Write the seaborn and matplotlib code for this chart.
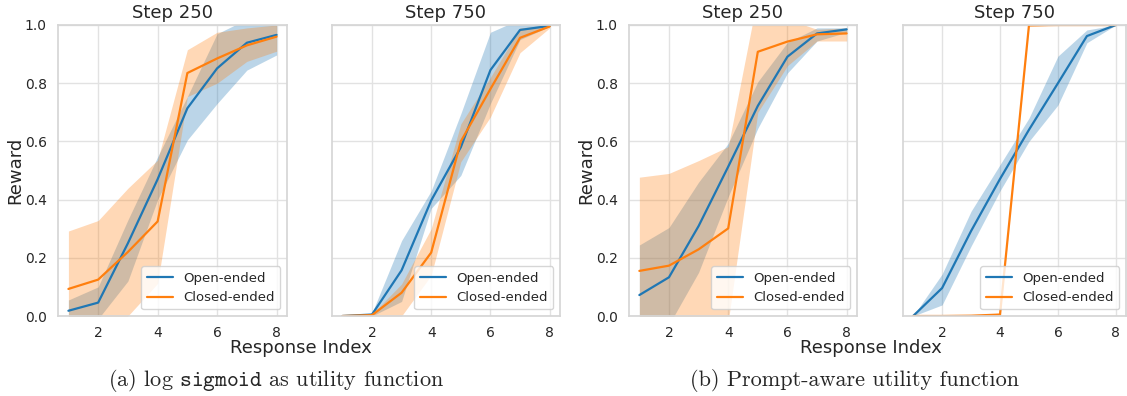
import numpy as np
import pandas as pd
import matplotlib
matplotlib.use("Agg")
import matplotlib.pyplot as plt
import seaborn as sns

# ---------------- data ----------------
idx = [1, 2, 3, 4, 5, 6, 7, 8]
series_names = ["Open-ended", "Closed-ended"]
panel_titles = ["Step 250", "Step 750", "Step 250", "Step 750"]
captions = ["(a) log $\\mathtt{sigmoid}$ as utility function",
            "(b) Prompt-aware utility function"]

# (a) log sigmoid, step 250
a250_open = [0.018, 0.046, 0.25, 0.47, 0.714, 0.851, 0.939, 0.966]
a250_open_lo = [-0.02, -0.01, 0.12, 0.40, 0.605, 0.73, 0.845, 0.897]
a250_open_hi = [0.055, 0.10, 0.33, 0.547, 0.754, 0.97, 1.02, 1.03]
a250_closed = [0.093, 0.125, 0.22, 0.325, 0.835, 0.885, 0.93, 0.96]
a250_closed_lo = [-0.10, -0.08, 0.0, 0.112, 0.754, 0.80, 0.875, 0.91]
a250_closed_hi = [0.292, 0.328, 0.439, 0.536, 0.915, 0.975, 0.99, 1.0]

# (a) log sigmoid, step 750
a750_open = [0.0, 0.005, 0.157, 0.397, 0.58, 0.845, 0.983, 0.997]
a750_open_lo = [0.0, 0.0, 0.05, 0.37, 0.483, 0.73, 0.95, 0.995]
a750_open_hi = [0.0, 0.01, 0.259, 0.43, 0.695, 0.975, 1.02, 1.0]
a750_closed = [0.0, 0.003, 0.08, 0.218, 0.60, 0.78, 0.956, 0.995]
a750_closed_lo = [0.0, 0.0, 0.0, 0.14, 0.53, 0.684, 0.905, 0.99]
a750_closed_hi = [0.0, 0.006, 0.11, 0.30, 0.66, 0.82, 0.99, 1.0]

# (b) prompt-aware, step 250
b250_open = [0.072, 0.133, 0.309, 0.513, 0.722, 0.891, 0.971, 0.985]
b250_open_lo = [-0.10, -0.03, 0.15, 0.41, 0.645, 0.835, 0.945, 0.975]
b250_open_hi = [0.244, 0.304, 0.46, 0.593, 0.805, 0.94, 0.99, 0.99]
b250_closed = [0.155, 0.173, 0.229, 0.301, 0.908, 0.943, 0.968, 0.971]
b250_closed_lo = [-0.20, -0.15, -0.10, -0.02, 0.70, 0.86, 0.945, 0.945]
b250_closed_hi = [0.477, 0.49, 0.534, 0.582, 1.10, 1.02, 0.985, 0.99]

# (b) prompt-aware, step 750
b750_open = [0.0, 0.096, 0.292, 0.471, 0.64, 0.80, 0.962, 1.0]
b750_open_lo = [0.0, 0.038, 0.24, 0.43, 0.60, 0.725, 0.939, 1.0]
b750_open_hi = [0.0, 0.144, 0.36, 0.52, 0.68, 0.893, 0.983, 1.0]
b750_closed = [0.0, 0.0, 0.001, 0.005, 0.999, 1.0, 1.0, 1.0]
b750_closed_lo = [0.0, 0.0, 0.0, 0.0, 0.995, 1.0, 1.0, 1.0]
b750_closed_hi = [0.0, 0.0, 0.002, 0.01, 1.0, 1.0, 1.0, 1.0]

panels = [
    (a250_open, a250_open_lo, a250_open_hi, a250_closed, a250_closed_lo, a250_closed_hi),
    (a750_open, a750_open_lo, a750_open_hi, a750_closed, a750_closed_lo, a750_closed_hi),
    (b250_open, b250_open_lo, b250_open_hi, b250_closed, b250_closed_lo, b250_closed_hi),
    (b750_open, b750_open_lo, b750_open_hi, b750_closed, b750_closed_lo, b750_closed_hi),
]

# ---------------- style ----------------
sns.set_theme(style="whitegrid", rc={"grid.color": "#e2e2e2", "axes.edgecolor": "#d6d6d6"})
plt.rcParams["font.family"] = ["DejaVu Sans"]
plt.rcParams["mathtext.fontset"] = "cm"
colors = sns.color_palette("tab10")[:2]

W, H = 1127, 396
fig = plt.figure(figsize=(W / 100, H / 100), dpi=100)

ax_px = [(58, 287), (332, 560), (629, 857), (903, 1126)]
top_px, bot_px = 25, 316

axes = []
for (l, r) in ax_px:
    ax = fig.add_axes([l / W, 1 - bot_px / H, (r - l) / W, (bot_px - top_px) / H])
    axes.append(ax)

for i, (ax, data) in enumerate(zip(axes, panels)):
    o, olo, ohi, c, clo, chi = data
    df = pd.DataFrame({
        "Response Index": idx * 2,
        "Reward": list(o) + list(c),
        "Type": [series_names[0]] * len(idx) + [series_names[1]] * len(idx),
    })
    ax.fill_between(idx, olo, ohi, color=colors[0], alpha=0.3, linewidth=0)
    ax.fill_between(idx, clo, chi, color=colors[1], alpha=0.3, linewidth=0)
    sns.lineplot(data=df, x="Response Index", y="Reward", hue="Type",
                 palette=colors, errorbar=None, linewidth=1.6, ax=ax)
    ax.set_ylim(0, 1)
    ax.set_xticks([2, 4, 6, 8])
    ax.set_yticks([0, 0.2, 0.4, 0.6, 0.8, 1.0])
    ax.set_title(panel_titles[i], fontsize=13, pad=5)
    ax.set_xlabel("")
    ax.tick_params(axis="y", labelsize=10, pad=2)
    ax.tick_params(axis="x", labelsize=10, pad=1)
    if i % 2 == 0:
        ax.set_ylabel("Reward", fontsize=13, labelpad=0.5)
    else:
        ax.set_ylabel("")
        ax.set_yticklabels([])
    ax.legend(loc="lower right", fontsize=9.5, title=None, frameon=True)

fig.text(301 / W, 1 - 348 / H, "Response Index", ha="center", va="center", fontsize=13)
fig.text(871 / W, 1 - 348 / H, "Response Index", ha="center", va="center", fontsize=13)

fig.text(276 / W, 1 - 381 / H, captions[0], ha="center", va="center",
         fontsize=16, family="cmr10")
fig.text(854 / W, 1 - 381 / H, captions[1], ha="center", va="center",
         fontsize=16, family="cmr10")

fig.savefig("out.png", dpi=100)
